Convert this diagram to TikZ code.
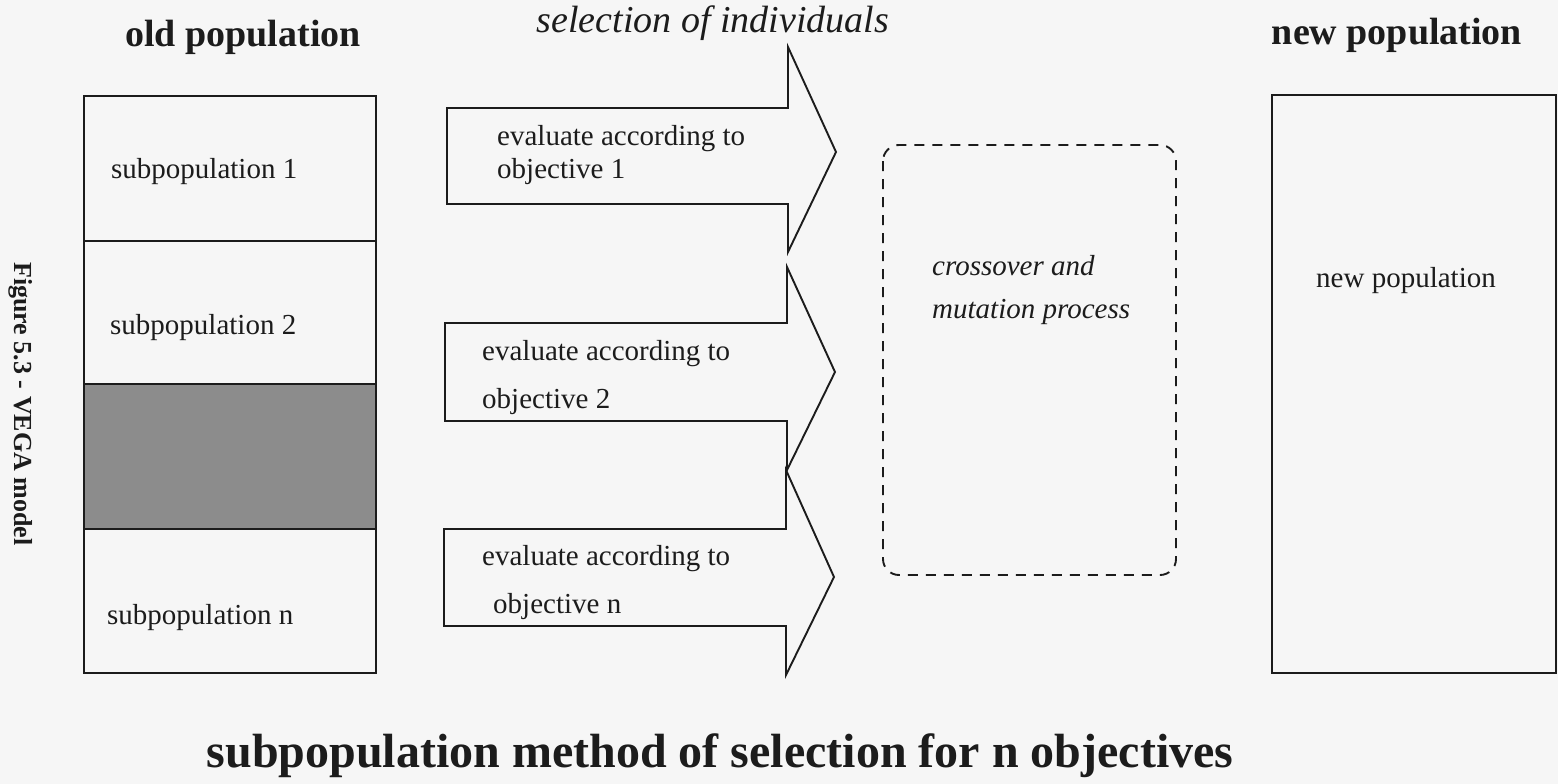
\documentclass[tikz,border=0pt]{standalone}
\usepackage{fontspec}
\setmainfont{Liberation Serif}
\definecolor{bg}{RGB}{246,246,246}
\definecolor{ink}{RGB}{28,28,28}
\definecolor{greyfill}{RGB}{140,140,140}
\tikzset{
  outline/.style={draw=ink, line width=1.9pt, line join=miter},
  dashbox/.style={draw=ink, line width=1.9pt, dash pattern=on 10pt off 8pt, rounded corners=16pt},
  bodytext/.style={font=\fontsize{29}{34}\selectfont, text=ink, inner sep=0pt},
  italtext/.style={font=\fontsize{29}{34}\selectfont\itshape, text=ink, inner sep=0pt},
  headtext/.style={font=\fontsize{38}{44}\selectfont\bfseries, text=ink, inner sep=0pt},
  headital/.style={font=\fontsize{38}{44}\selectfont\itshape, text=ink, inner sep=0pt},
  captext/.style={font=\fontsize{48}{54}\selectfont\bfseries, text=ink, inner sep=0pt},
  figtext/.style={font=\fontsize{26}{30}\selectfont\bfseries, text=ink, inner sep=0pt, rotate=-90}
}
\begin{document}
\begin{tikzpicture}[x=1pt,y=-1pt]
\fill[bg] (0,0) rectangle (1558,784);
\useasboundingbox (0,0) rectangle (1558,784);

% side caption
\node[figtext] (figcap) at (21,404) {Figure 5.3 - VEGA model};

% titles
\node[headtext, anchor=base] (oldtitle) at (243,47) {old population};
\node[headital, anchor=base] (seltitle) at (713,33) {selection of individuals};
\node[headtext, anchor=base] (newtitle) at (1397,45) {new population};

% old population box
\fill[greyfill] (84,384) rectangle (376,529);
\draw[outline] (84,96) rectangle (376,673);
\draw[outline] (84,241) -- (376,241);
\draw[outline] (84,384) -- (376,384);
\draw[outline] (84,529) -- (376,529);
\node[bodytext, anchor=base west] (sub1) at (111,178) {subpopulation 1};
\node[bodytext, anchor=base west] (sub2) at (110,334) {subpopulation 2};
\node[bodytext, anchor=base west] (subn) at (107,624) {subpopulation n};

% block arrows
\draw[outline] (447,108) -- (788,108) -- (788,47) -- (836,152) -- (788,252) -- (788,204) -- (447,204) -- cycle;
\draw[outline] (445,323) -- (787,323) -- (787,267) -- (835,372) -- (787,470) -- (787,421) -- (445,421) -- cycle;
\draw[outline] (444,529) -- (786,529) -- (786,470) -- (834,577) -- (786,675) -- (786,626) -- (444,626) -- cycle;

\node[bodytext, anchor=base west] (ev1a) at (497,145) {evaluate according to};
\node[bodytext, anchor=base west] (ev1b) at (497,178) {objective 1};
\node[bodytext, anchor=base west] (ev2a) at (482,360) {evaluate according to};
\node[bodytext, anchor=base west] (ev2b) at (482,408) {objective 2};
\node[bodytext, anchor=base west] (ev3a) at (482,565) {evaluate according to};
\node[bodytext, anchor=base west] (ev3b) at (493,613) {objective n};

% crossover box
\draw[dashbox] (883,145) rectangle (1176,575);
\node[italtext, anchor=base west] (cross1) at (932,275) {crossover and};
\node[italtext, anchor=base west] (cross2) at (932,318) {mutation process};

% new population box
\draw[outline] (1272,95) rectangle (1556,673);
\node[bodytext, anchor=base] (newin) at (1406,287) {new population};

% bottom caption
\node[captext, anchor=base] (bottomcap) at (720,767) {subpopulation method of selection for n objectives};
\end{tikzpicture}
\end{document}
